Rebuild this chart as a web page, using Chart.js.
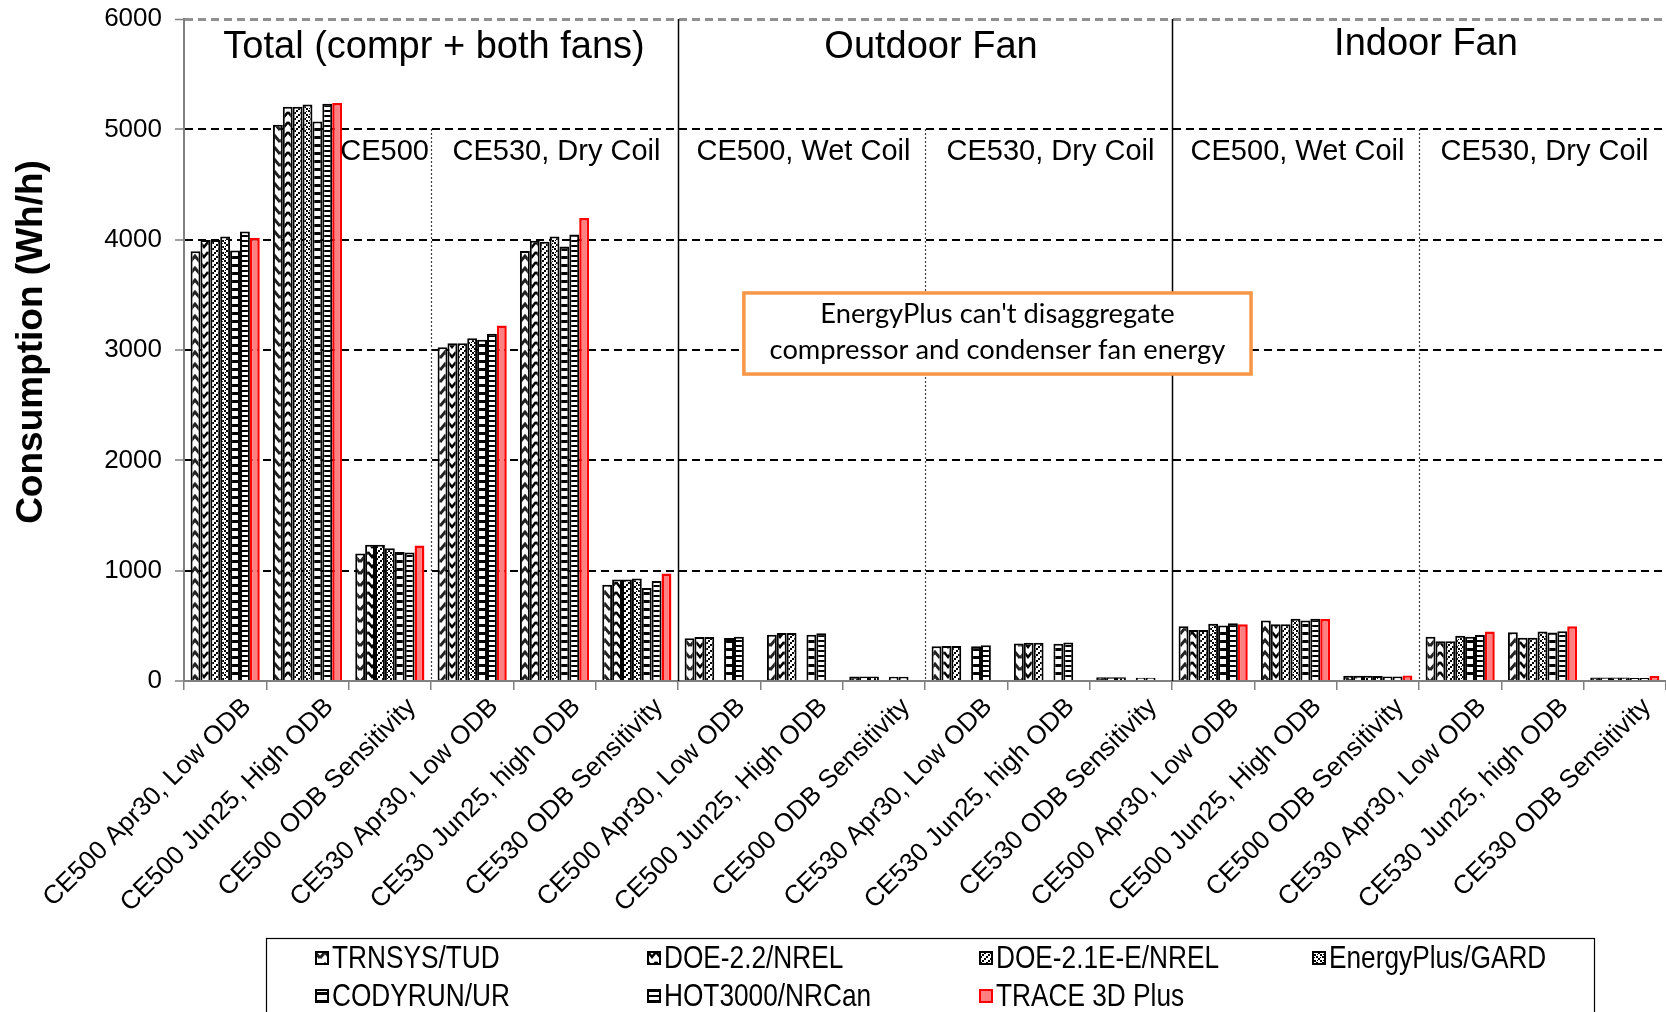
<!DOCTYPE html>
<html>
<head>
<meta charset="utf-8">
<script src="https://cdn.jsdelivr.net/npm/chart.js@4.4.1/dist/chart.umd.min.js"></script>
<style>
  html, body { margin: 0; padding: 0; background: #fff; }
  #wrap { width: 1666px; height: 1012px; }
</style>
</head>
<body>
<div id="wrap"><canvas id="chart" width="1666" height="1012"></canvas></div>
<script>
const categories = [
  'CE500 Apr30, Low ODB', 'CE500 Jun25, High ODB', 'CE500 ODB Sensitivity',
  'CE530 Apr30, Low ODB', 'CE530 Jun25, high ODB', 'CE530 ODB Sensitivity',
  'CE500 Apr30, Low ODB', 'CE500 Jun25, High ODB', 'CE500 ODB Sensitivity',
  'CE530 Apr30, Low ODB', 'CE530 Jun25, high ODB', 'CE530 ODB Sensitivity',
  'CE500 Apr30, Low ODB', 'CE500 Jun25, High ODB', 'CE500 ODB Sensitivity',
  'CE530 Apr30, Low ODB', 'CE530 Jun25, high ODB', 'CE530 ODB Sensitivity'
];

const seriesNames = ['TRNSYS/TUD', 'DOE-2.2/NREL', 'DOE-2.1E-E/NREL', 'EnergyPlus/GARD',
  'CODYRUN/UR', 'HOT3000/NRCan', 'TRACE 3D Plus'];

const trnsys     = [3894, 5042, 1155, 3025, 3897, 872, 387, 420, 40, 314, 341, 33, 497, 549, 48, 402, 442, 32];
const doe22      = [3996, 5204, 1236, 3062, 3991, 919, 399, 435, 40, 317, 347, 33, 463, 515, 47, 360, 393, 32];
const doe21e     = [3996, 5204, 1236, 3062, 3981, 919, 399, 435, 40, 317, 347, 33, 463, 515, 47, 360, 393, 32];
const energyplus = [4028, 5225, 1204, 3106, 4028, 928, null, null, null, null, null, null, 518, 564, 46, 409, 448, 32];
const codyrun    = [3901, 5070, 1169, 3094, 3937, 844, 390, 420, 38, 314, 338, 30, 503, 549, 40, 402, 439, 28];
const hot3000    = [4074, 5232, 1165, 3147, 4047, 906, 402, 432, 38, 323, 350, 30, 524, 564, 40, 418, 451, 28];
const trace3d    = [4018, 5239, 1229, 3222, 4197, 975, null, null, null, null, null, null, 515, 561, 50, 448, 497, 45];

const yTicks = [0, 1000, 2000, 3000, 4000, 5000, 6000];
const yTitle = 'Consumption (Wh/h)';

// section headings: [first index, last index, text]
const mainSections = [[0, 5, 'Total (compr + both fans)'], [6, 11, 'Outdoor Fan'], [12, 17, 'Indoor Fan']];
const subSections = [[0, 2, 'CE500'], [3, 5, 'CE530, Dry Coil'], [6, 8, 'CE500, Wet Coil'],
  [9, 11, 'CE530, Dry Coil'], [12, 14, 'CE500, Wet Coil'], [15, 17, 'CE530, Dry Coil']];
const noteLines = ["EnergyPlus can't disaggregate", 'compressor and condenser fan energy'];

const canvas = document.getElementById('chart');
const ctx = canvas.getContext('2d');

function makePattern(w, h, draw) {
  const c = document.createElement('canvas');
  c.width = w; c.height = h;
  const g = c.getContext('2d');
  g.fillStyle = '#fff';
  g.fillRect(0, 0, w, h);
  draw(g);
  return ctx.createPattern(c, 'repeat');
}

// hatch fills, roughly like the Excel patterns
const patTrnsys = makePattern(10, 12, g => {
  g.strokeStyle = '#222'; g.lineWidth = 3;
  for (const o of [-12, 0, 12]) {
    g.beginPath(); g.moveTo(0, 10 + o); g.lineTo(5, 4 + o); g.lineTo(10, 10 + o); g.stroke();
  }
});
const patDoe22 = makePattern(8, 10, g => {
  g.strokeStyle = '#000'; g.lineWidth = 2.5;
  for (const o of [-10, 0, 10]) {
    g.beginPath(); g.moveTo(0, 2 + o); g.lineTo(4, 7 + o); g.lineTo(8, 2 + o); g.stroke();
  }
});
const patDoe21e = makePattern(6, 6, g => {
  g.fillStyle = '#000';
  g.fillRect(0, 4, 2, 2); g.fillRect(2, 2, 2, 2); g.fillRect(4, 0, 2, 2);
  g.fillRect(1, 5, 1, 1); g.fillRect(3, 3, 1, 1);
});
const patEplus = makePattern(6, 6, g => {
  g.fillStyle = '#000';
  g.fillRect(0, 0, 2, 2); g.fillRect(2, 2, 2, 2); g.fillRect(4, 4, 2, 2);
  g.fillRect(3, 0, 1, 1); g.fillRect(0, 3, 1, 1);
});
const patCody = makePattern(4, 8, g => {
  g.fillStyle = '#000'; g.fillRect(0, 0, 4, 3);
});
const patHot = makePattern(4, 5, g => {
  g.fillStyle = '#000'; g.fillRect(0, 0, 4, 2);
});

const fills = [patTrnsys, patDoe22, patDoe21e, patEplus, patCody, patHot, '#ff8080'];
const edges = ['#000', '#000', '#000', '#000', '#000', '#000', '#ff0000'];
const values = [trnsys, doe22, doe21e, energyplus, codyrun, hot3000, trace3d];

const datasets = seriesNames.map((name, i) => ({
  label: name,
  data: values[i],
  backgroundColor: fills[i],
  borderColor: edges[i],
  borderWidth: i === 6 ? 2.5 : 2,
  categoryPercentage: 0.84,
  barPercentage: 1.0
}));

// narrow-looking text (no Arial Narrow here, so squeeze sideways)
function narrowText(c, text, x, y, squeeze) {
  c.save();
  c.translate(x, y);
  c.scale(squeeze, 1);
  c.fillText(text, 0, 0);
  c.restore();
}

const decorPlugin = {
  id: 'decor',
  beforeDatasetsDraw(chart) {
    const { ctx, chartArea, scales: { x, y } } = chart;
    const boundary = i => (x.getPixelForValue(i - 1) + x.getPixelForValue(i)) / 2;
    ctx.save();
    // solid separators between the three blocks
    ctx.strokeStyle = '#000'; ctx.lineWidth = 1.5;
    [6, 12].forEach(i => {
      const bx = Math.round(boundary(i)) + 0.5;
      ctx.beginPath(); ctx.moveTo(bx, chartArea.top); ctx.lineTo(bx, chartArea.bottom); ctx.stroke();
    });
    // dotted separators between CE500 / CE530
    ctx.lineWidth = 1.2; ctx.setLineDash([1.5, 2.5]);
    [3, 9, 15].forEach(i => {
      const bx = Math.round(boundary(i)) + 0.5;
      ctx.beginPath(); ctx.moveTo(bx, y.getPixelForValue(5000)); ctx.lineTo(bx, chartArea.bottom); ctx.stroke();
    });
    ctx.restore();
  },
  afterDraw(chart) {
    const { ctx, chartArea, scales: { x, y } } = chart;
    const boundary = i => (x.getPixelForValue(i - 1) + x.getPixelForValue(i)) / 2;
    ctx.save();
    ctx.fillStyle = '#000';
    ctx.textBaseline = 'middle';
    ctx.textAlign = 'center';

    // y axis title
    ctx.save();
    ctx.translate(32, 342);
    ctx.rotate(-Math.PI / 2);
    ctx.font = 'bold 37px "Liberation Sans", Arial, sans-serif';
    ctx.fillText(yTitle, 0, 0);
    ctx.restore();

    ctx.font = '38px "Liberation Sans", Arial, sans-serif';
    const nudge = [3, 6, 7];
    mainSections.forEach(([a, b, t], k) => {
      ctx.fillText(t, (boundary(a) + boundary(b + 1)) / 2 + nudge[k], chartArea.top + (k === 2 ? 26 : 29));
    });
    ctx.font = '29px "Liberation Sans", Arial, sans-serif';
    const subY = y.getPixelForValue(5000) + 23;
    subSections.forEach(([a, b, t], k) => {
      if (k === 0) {
        ctx.textAlign = 'right';
        ctx.fillText(t, boundary(b + 1) - 2, subY);
        ctx.textAlign = 'center';
      } else {
        ctx.fillText(t, (boundary(a) + boundary(b + 1)) / 2 + 2, subY);
      }
    });

    // note box
    const bx0 = x.getPixelForValue(6.3), bx1 = x.getPixelForValue(12.46);
    const by0 = y.getPixelForValue(3517), by1 = y.getPixelForValue(2782);
    ctx.fillStyle = '#fff';
    ctx.fillRect(bx0, by0, bx1 - bx0, by1 - by0);
    ctx.strokeStyle = '#f79646'; ctx.lineWidth = 3.5;
    ctx.strokeRect(bx0, by0, bx1 - bx0, by1 - by0);
    ctx.fillStyle = '#000';
    ctx.font = '24px Lato, "Open Sans", sans-serif';
    const fit = 456 / ctx.measureText(noteLines[1]).width;
    ctx.font = (24 * fit).toFixed(1) + 'px Lato, "Open Sans", sans-serif';
    const cx = (bx0 + bx1) / 2, cy = (by0 + by1) / 2;
    ctx.fillText(noteLines[0], cx, cy - 19);
    ctx.fillText(noteLines[1], cx, cy + 17);

    // legend box
    ctx.strokeStyle = '#000'; ctx.lineWidth = 1.2;
    ctx.strokeRect(266.5, 938.5, 1328, 90);
    ctx.font = '32px "Liberation Sans", Arial, sans-serif';
    ctx.textAlign = 'left';
    const colX = [316, 648, 980, 1313];
    const rowY = [958, 996];
    chart.data.datasets.forEach((ds, i) => {
      const lx = colX[i % 4], ly = rowY[Math.floor(i / 4)];
      ctx.fillStyle = ds.backgroundColor;
      ctx.fillRect(lx, ly - 6, 12, 12);
      ctx.strokeStyle = ds.borderColor; ctx.lineWidth = 2;
      ctx.strokeRect(lx, ly - 6, 12, 12);
      ctx.fillStyle = '#000';
      narrowText(ctx, ds.label, lx + 16, ly + 1, 0.82);
    });
    ctx.restore();
  }
};

new Chart(ctx, {
  type: 'bar',
  data: { labels: categories, datasets },
  plugins: [decorPlugin],
  options: {
    responsive: false,
    devicePixelRatio: 1,
    animation: false,
    layout: { padding: { top: 19, left: 0, right: 0, bottom: 0 } },
    plugins: { legend: { display: false }, tooltip: { enabled: false } },
    scales: {
      x: {
        afterFit(scale) { scale.height = 331; scale.paddingLeft = 0; scale.paddingRight = 0; },
        grid: { drawOnChartArea: false, color: '#808080', tickLength: 9, lineWidth: 1.5, offset: true },
        border: { color: '#808080', width: 2 },
        ticks: {
          color: '#000', autoSkip: false, maxRotation: 45, minRotation: 45, padding: 2, labelOffset: 22,
          font: { family: '"Liberation Sans", Arial, sans-serif', size: 26 }
        }
      },
      y: {
        min: 0, max: 6000,
        afterFit(scale) { scale.width = 184; scale.paddingTop = 0; scale.paddingBottom = 0; },
        afterBuildTicks(scale) { scale.ticks = yTicks.map(v => ({ value: v })); },
        grid: {
          color: c => (c.tick && c.tick.value === 6000 ? '#909090' : '#000'),
          lineWidth: c => (c.tick && c.tick.value === 6000 ? 3 : 2),
          tickLength: 9, tickColor: '#808080', tickWidth: 1.5, tickBorderDash: []
        },
        border: { color: '#808080', width: 2, dash: [8, 5] },
        ticks: {
          color: '#000', padding: 13,
          callback: v => String(v),
          font: { family: '"Liberation Sans", Arial, sans-serif', size: 26 }
        }
      }
    }
  }
});
</script>
</body>
</html>
